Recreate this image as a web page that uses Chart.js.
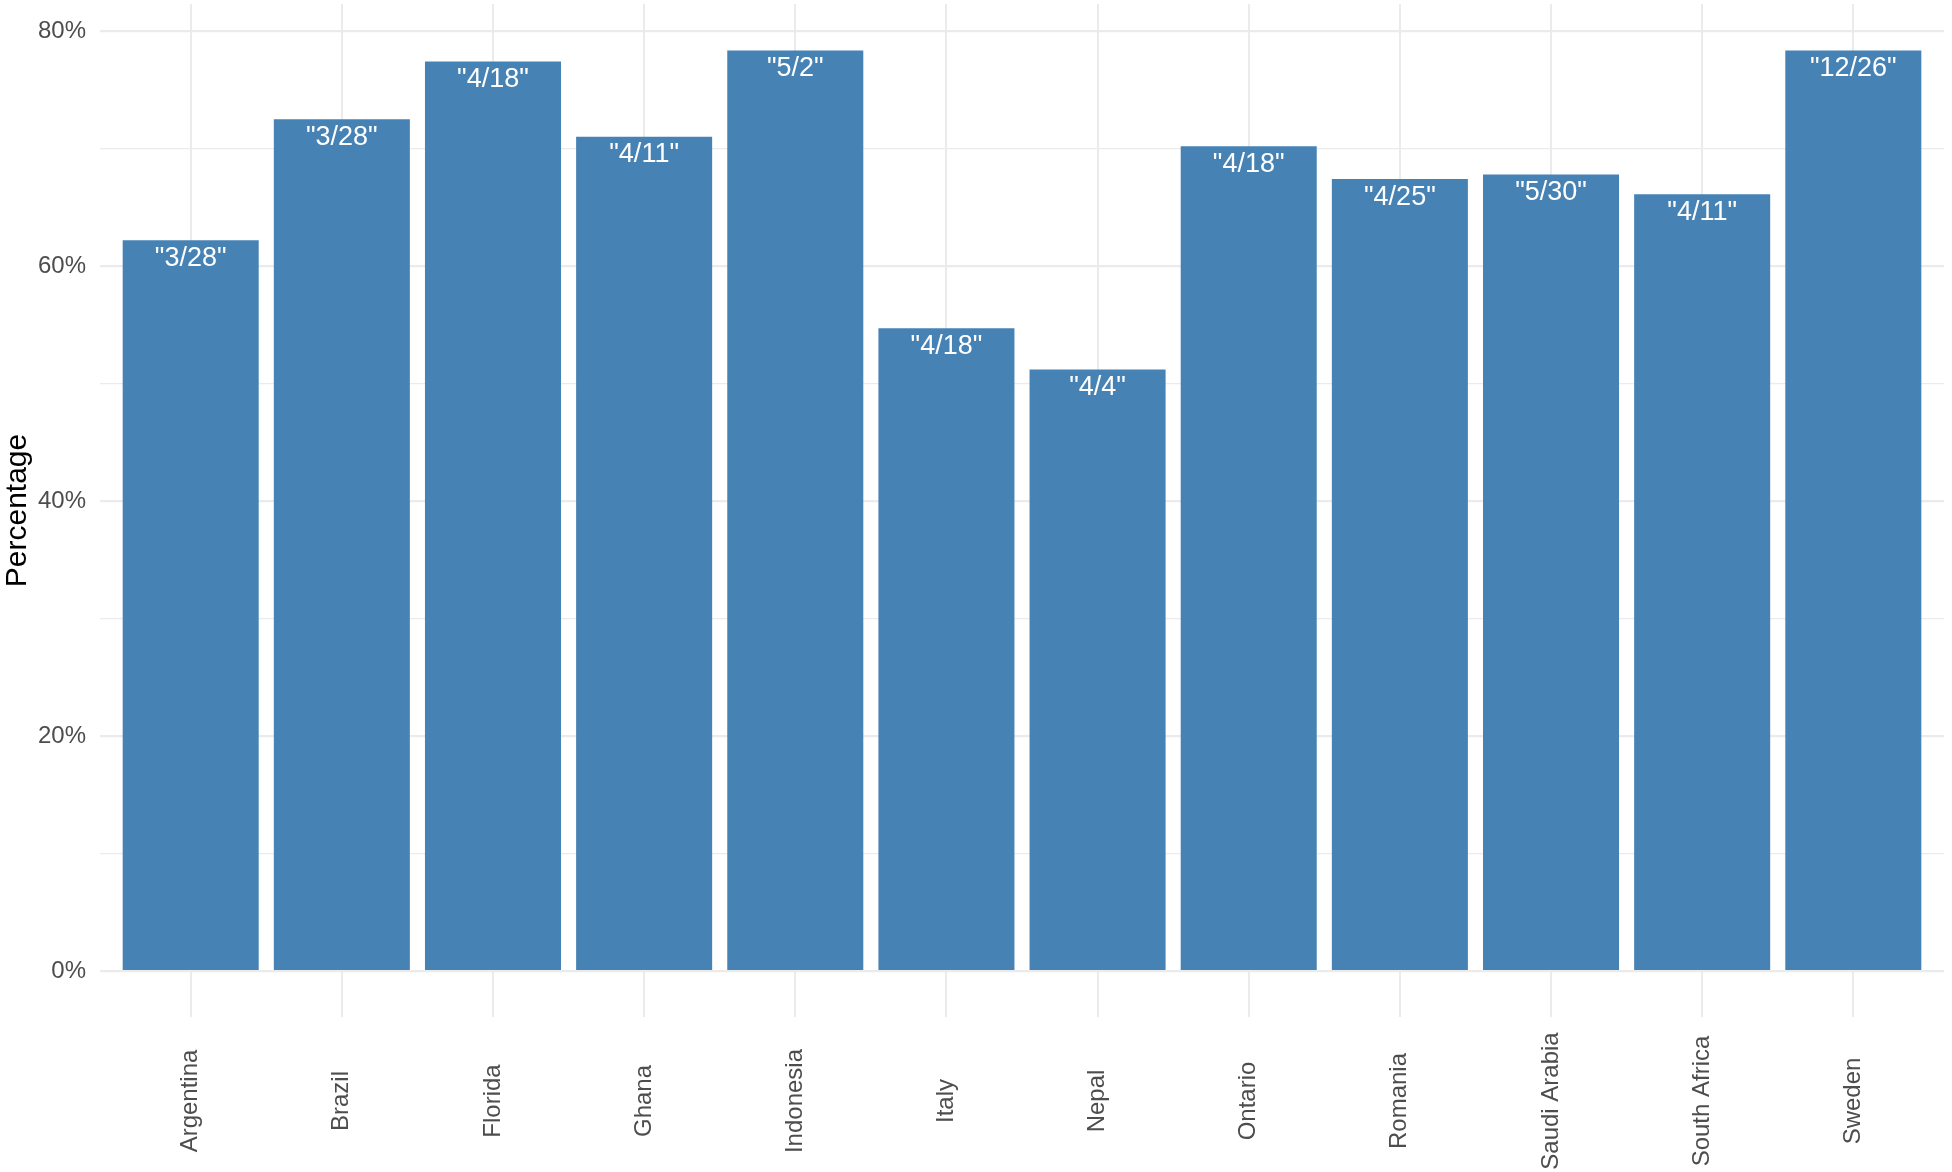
<!DOCTYPE html>
<html>
<head>
<meta charset="utf-8">
<script src="https://cdn.jsdelivr.net/npm/chart.js@4"></script>
<style>
  html, body { margin: 0; padding: 0; background: #fff; }
  #wrap { width: 1952px; height: 1172px; }
</style>
</head>
<body>
<div id="wrap"><canvas id="chart"></canvas></div>
<script>
// datos del gráfico
const countries = ['Argentina', 'Brazil', 'Florida', 'Ghana', 'Indonesia', 'Italy', 'Nepal', 'Ontario', 'Romania', 'Saudi Arabia', 'South Africa', 'Sweden'];
const percentages = [62.2, 72.5, 77.4, 71.0, 78.35, 54.7, 51.2, 70.2, 67.4, 67.8, 66.1, 78.35];
const dateLabels = ['"3/28"', '"3/28"', '"4/18"', '"4/11"', '"5/2"', '"4/18"', '"4/4"', '"4/18"', '"4/25"', '"5/30"', '"4/11"', '"12/26"'];
const yTicks = [0, 10, 20, 30, 40, 50, 60, 70, 80];

const FONT = '"Liberation Sans", Arial, Helvetica, sans-serif';
const GRID = '#ebebeb';

// Etiquetas dentro de las barras y nombres de países centrados
const labelPlugin = {
    id: 'labelPlugin',
    afterDatasetsDraw(chart) {
        const ctx = chart.ctx;
        const meta = chart.getDatasetMeta(0);
        ctx.save();
        ctx.fillStyle = '#ffffff';
        ctx.font = '27px ' + FONT;
        ctx.textAlign = 'center';
        ctx.textBaseline = 'middle';
        meta.data.forEach((bar, i) => {
            ctx.fillText(dateLabels[i], bar.x, bar.y + 18);
        });
        ctx.restore();
    },
    afterDraw(chart) {
        const ctx = chart.ctx;
        const xScale = chart.scales.x;
        ctx.save();
        ctx.fillStyle = '#4d4d4d';
        ctx.font = '24px ' + FONT;
        ctx.textAlign = 'center';
        ctx.textBaseline = 'middle';
        countries.forEach((name, i) => {
            const x = xScale.getPixelForValue(i);
            ctx.save();
            ctx.translate(x, 1101);
            ctx.rotate(-Math.PI / 2);
            ctx.fillText(name, 0, 0);
            ctx.restore();
        });
        ctx.restore();
    }
};

new Chart(document.getElementById('chart').getContext('2d'), {
    type: 'bar',
    data: {
        datasets: [{
            data: percentages.map((v, i) => ({ x: i, y: v })),
            backgroundColor: '#4682b4',
            borderWidth: 0,
            barPercentage: 0.9,
            categoryPercentage: 1.0
        }]
    },
    options: {
        responsive: true,
        maintainAspectRatio: false,
        animation: false,
        layout: { padding: { top: 4, right: 8, left: 0, bottom: 0 } },
        plugins: {
            legend: { display: false },
            tooltip: { enabled: false }
        },
        scales: {
            x: {
                type: 'linear',
                min: -0.6,
                max: 11.6,
                offset: false,
                afterBuildTicks: (scale) => { scale.ticks = countries.map((c, i) => ({ value: i })); },
                afterFit: (scale) => {
                    scale.height = 155;
                    scale.paddingLeft = 0;
                    scale.paddingRight = 0;
                },
                ticks: { display: false },
                grid: { color: GRID, lineWidth: 2, drawTicks: false, offset: false },
                border: { display: false }
            },
            y: {
                min: -3.91,
                max: 82.3,
                afterBuildTicks: (scale) => { scale.ticks = yTicks.map(v => ({ value: v })); },
                afterFit: (scale) => {
                    scale.width = 100;
                    scale.paddingTop = 0;
                    scale.paddingBottom = 0;
                },
                ticks: {
                    color: '#4d4d4d',
                    font: { family: FONT, size: 24 },
                    padding: 14,
                    callback: (v) => (v % 20 === 0 ? v + '%' : '')
                },
                grid: {
                    color: GRID,
                    lineWidth: (c) => (c.tick && c.tick.value % 20 === 0 ? 2.2 : 1.2),
                    drawTicks: false
                },
                border: { display: false },
                title: {
                    display: true,
                    text: 'Percentage',
                    color: '#000000',
                    font: { family: FONT, size: 30 },
                    padding: { top: 0, bottom: 0 }
                }
            }
        }
    },
    plugins: [labelPlugin]
});
</script>
</body>
</html>
